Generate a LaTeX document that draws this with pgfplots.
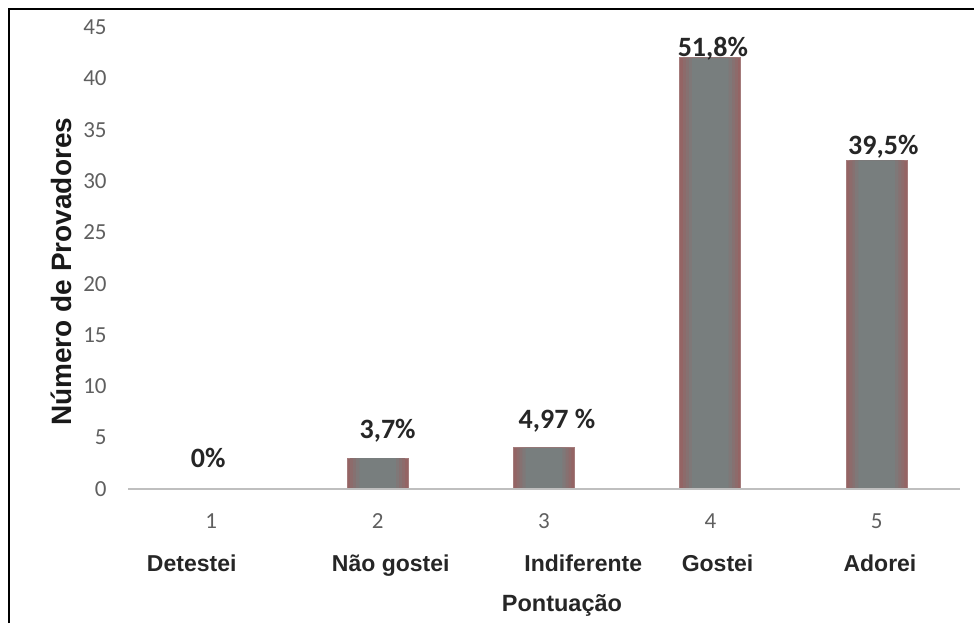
\documentclass[border=0pt]{standalone}
\usepackage{pgfplots}
\usepackage{pgfplotstable}
\pgfplotsset{compat=1.18}
\usepackage{fontspec}
\setmainfont{Carlito}
\newfontfamily\arialf{Liberation Sans}
\definecolor{barEdge}{RGB}{148,100,100}
\definecolor{barMid}{RGB}{120,126,126}
\definecolor{tickgray}{RGB}{95,95,95}
\definecolor{txt}{RGB}{38,38,38}
\definecolor{axgray}{RGB}{191,191,191}
\tikzset{catlbl/.style={anchor=base, inner sep=0pt, text=txt, font=\arialf\bfseries\fontsize{11.5}{13}\selectfont}}
\pgfplotstableread{
x y lbl dx dy
1 0 0\% -1.5 10.5
2 3 3,7\% 5 9.5
3 4 {4,97 \%} 6.5 9.5
4 42 51,8\% 1.25 0.5
5 32 39,5\% 3.25 2.75
}\datatable
\begin{document}
\begin{tikzpicture}
\begin{axis}[
  scale only axis, width=416pt, height=231pt,
  xmin=0.5, xmax=5.5, ymin=0, ymax=45,
  axis x line*=bottom, axis y line*=left,
  x axis line style={draw=axgray, line width=1.3pt},
  y axis line style={draw=none},
  major tick length=0pt, tick style={draw=none},
  xtick={1,2,3,4,5}, xticklabels={1,2,3,4,5},
  ytick={0,5,...,45},
  /pgf/number format/assume math mode=true,
  ticklabel style={font=\fontsize{11.5}{13}\selectfont, text=tickgray, inner sep=0pt},
  yticklabel style={anchor=east, xshift=-10.5pt},
  xticklabel style={anchor=base, yshift=-19.5pt},
  axis on top,
  clip=false,
  xlabel={Pontuação},
  xlabel style={at={([yshift=-61pt]rel axis cs:0.5216,0)}, anchor=base, inner sep=0pt, text=txt, font=\arialf\bfseries\fontsize{11.75}{14}\selectfont},
  ylabel={Número de Provadores},
  ylabel style={at={([xshift=-28pt]rel axis cs:0,0.47)}, anchor=base, inner sep=0pt, text=black!90, font=\arialf\bfseries\fontsize{14}{16}\selectfont},
]
\addplot[ybar, bar shift=0pt, bar width=0.367, fill=barEdge, draw=barEdge!85!white, line width=0.5pt, forget plot]
  table[x=x, y=y] {\datatable};
\addplot[ybar, bar shift=0pt, bar width=0.33, fill=barEdge!75!barMid, draw=none, forget plot]
  table[x=x, y=y] {\datatable};
\addplot[ybar, bar shift=0pt, bar width=0.295, fill=barEdge!50!barMid, draw=none, forget plot]
  table[x=x, y=y] {\datatable};
\addplot[ybar, bar shift=0pt, bar width=0.26, fill=barEdge!25!barMid, draw=none, forget plot]
  table[x=x, y=y] {\datatable};
\addplot[ybar, bar shift=0pt, bar width=0.22, fill=barMid, draw=none,
  nodes near coords, point meta=explicit symbolic,
  visualization depends on={\thisrow{dx} \as \lbldx},
  visualization depends on={\thisrow{dy} \as \lbldy},
  every node near coord/.append style={anchor=south, text depth=0pt, inner sep=0pt,
    xshift=\lbldx pt, yshift=\lbldy pt, text=txt, font=\bfseries\fontsize{14}{16}\selectfont}]
  table[x=x, y=y, meta=lbl] {\datatable};
\node[catlbl] at ([yshift=-41pt]axis cs:0.883,0) {Detestei};
\node[catlbl] at ([yshift=-41pt]axis cs:2.079,0) {Não gostei};
\node[catlbl] at ([yshift=-41pt]axis cs:3.236,0) {Indiferente};
\node[catlbl] at ([yshift=-41pt]axis cs:4.043,0) {Gostei};
\node[catlbl] at ([yshift=-41pt]axis cs:5.019,0) {Adorei};
\end{axis}
\draw[black, line width=1.25pt] (-59.4pt,-67pt) -- (-59.4pt,240pt) -- (423pt,240pt);
\pgfresetboundingbox
\path[use as bounding box] (-64pt,-67pt) rectangle (423pt,244.5pt);
\end{tikzpicture}
\end{document}
